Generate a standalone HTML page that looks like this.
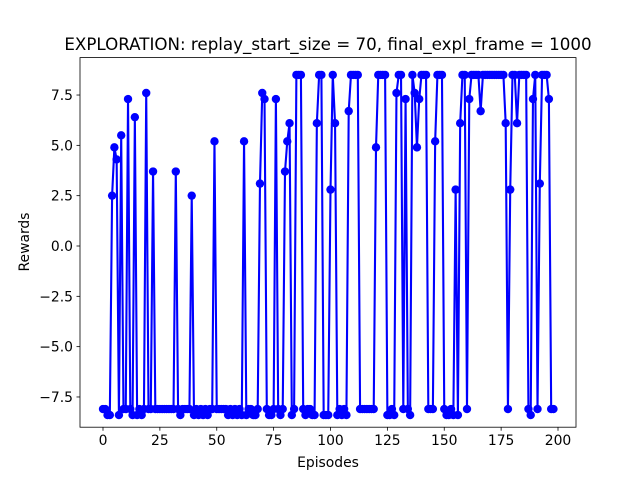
<!DOCTYPE html>
<html><head><meta charset="utf-8"><style>
body{margin:0;background:#fff}
svg text{font-family:"DejaVu Sans","Liberation Sans",sans-serif;fill:#000}
</style></head><body>
<svg id="chart" width="640" height="480" viewBox="0 0 640 480">
<rect width="640" height="480" fill="#fff"/>
<text x="328" y="50" font-size="16.7" text-anchor="middle">EXPLORATION: replay_start_size = 70, final_expl_frame = 1000</text>
<g id="plot"></g>
<rect x="80" y="57.6" width="496" height="369.6" fill="none" stroke="#000" stroke-width="0.8"/>
<g id="xt"></g><g id="yt"></g>
<text x="328" y="467" font-size="13.9" text-anchor="middle">Episodes</text>
<text x="0" y="0" font-size="13.9" text-anchor="middle" transform="translate(29,242) rotate(-90)">Rewards</text>
</svg>
<script>
const rewards=[-8.1,-8.1,-8.4,-8.4,2.5,4.9,4.3,-8.4,5.5,-8.1,
-8.1,7.3,-8.1,-8.4,6.4,-8.4,-8.1,-8.4,-8.1,7.6,
-8.1,-8.1,3.7,-8.1,-8.1,-8.1,-8.1,-8.1,-8.1,-8.1,
-8.1,-8.1,3.7,-8.1,-8.4,-8.1,-8.1,-8.1,-8.1,2.5,
-8.4,-8.1,-8.4,-8.1,-8.4,-8.1,-8.4,-8.1,-8.1,5.2,
-8.1,-8.1,-8.1,-8.1,-8.1,-8.4,-8.1,-8.4,-8.1,-8.4,
-8.1,-8.4,5.2,-8.4,-8.1,-8.1,-8.4,-8.4,-8.1,3.1,
7.6,7.3,-8.1,-8.4,-8.4,-8.1,7.3,-8.1,-8.4,-8.1,
3.7,5.2,6.1,-8.4,-8.1,8.5,8.5,8.5,-8.1,-8.4,
-8.1,-8.1,-8.4,-8.4,6.1,8.5,8.5,-8.4,-8.4,-8.4,
2.8,8.5,6.1,-8.4,-8.1,-8.4,-8.1,-8.4,6.7,8.5,
8.5,8.5,8.5,-8.1,-8.1,-8.1,-8.1,-8.1,-8.1,-8.1,
4.9,8.5,8.5,8.5,8.5,-8.4,-8.4,-8.1,-8.4,7.6,
8.5,8.5,-8.1,7.3,-8.1,-8.4,8.5,7.6,4.9,7.3,
8.5,8.5,8.5,-8.1,-8.1,-8.1,5.2,8.5,8.5,8.5,
-8.1,-8.4,-8.4,-8.1,-8.4,2.8,-8.4,6.1,8.5,8.5,-8.1,
7.3,8.5,8.5,8.5,8.5,6.7,8.5,8.5,8.5,8.5,
8.5,8.5,8.5,8.5,8.5,8.5,6.1,-8.1,2.8,8.5,
8.5,6.1,8.5,8.5,8.5,8.5,-8.1,-8.4,7.3,8.5,
-8.1,3.1,8.5,8.5,8.5,7.3,-8.1,-8.1];
const xTicks=[0,25,50,75,100,125,150,175,200];
const yTicks=[-7.5,-5.0,-2.5,0.0,2.5,5.0,7.5];
const NS='http://www.w3.org/2000/svg';
function X(e){return 103+e*2.275;}
function Y(v){return 246-v*20.13;}
function mk(t,a){const el=document.createElementNS(NS,t);for(const k in a)el.setAttribute(k,a[k]);return el;}
const plot=document.getElementById('plot');
const pts=rewards.map((v,i)=>X(i).toFixed(2)+','+Y(v).toFixed(2)).join(' ');
const line=mk('polyline',{points:pts,fill:'none',stroke:'#0000ff','stroke-width':2.1,'stroke-linejoin':'round'});


plot.appendChild(line);
rewards.forEach((v,i)=>{
  const c=mk('circle',{cx:X(i),cy:Y(v),r:4.2,fill:'#0000ff'});
  
  
  plot.appendChild(c);
});
const xt=document.getElementById('xt');
xTicks.forEach(t=>{
  const l=mk('line',{x1:X(t),x2:X(t),y1:427.2,y2:430.7,stroke:'#000','stroke-width':0.8});
  
  
  xt.appendChild(l);
  const tx=mk('text',{x:X(t),y:445,'font-size':13.9,'text-anchor':'middle'});
  tx.textContent=t;
  
  
  xt.appendChild(tx);
});
const yt=document.getElementById('yt');
yTicks.forEach(t=>{
  const l=mk('line',{x1:76.5,x2:80,y1:Y(t),y2:Y(t),stroke:'#000','stroke-width':0.8});
  
  
  yt.appendChild(l);
  const tx=mk('text',{x:73,y:Y(t)+5,'font-size':13.9,'text-anchor':'end'});
  tx.textContent=(t<0?'\u2212':'')+Math.abs(t).toFixed(1);
  
  
  yt.appendChild(tx);
});
</script>
</body></html>
